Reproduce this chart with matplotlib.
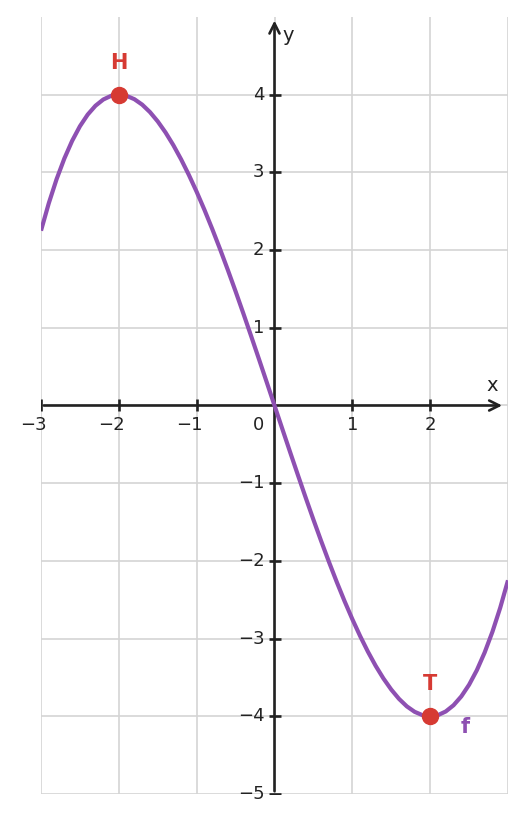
import matplotlib.pyplot as plt

# curve values (step 0.1)
xs = [round(-3.0 + 0.1 * i, 1) for i in range(61)]
ys_right = [0.0, -0.300, -0.598, -0.893, -1.184, -1.469, -1.746, -2.014, -2.272, -2.518, -2.75,
            -2.967, -3.168, -3.351, -3.514, -3.656, -3.776, -3.872, -3.942, -3.985, -4.0,
            -3.985, -3.938, -3.858, -3.744, -3.594, -3.406, -3.179, -2.912, -2.603, -2.25]
ys_left = [2.25, 2.603, 2.912, 3.179, 3.406, 3.594, 3.744, 3.858, 3.938, 3.985, 4.0,
           3.985, 3.942, 3.872, 3.776, 3.656, 3.514, 3.351, 3.168, 2.967, 2.75,
           2.518, 2.272, 2.014, 1.746, 1.469, 1.184, 0.893, 0.598, 0.300]
ys = ys_left + ys_right

point_names = ["H", "T"]
point_x = [-2, 2]
point_y = [4, -4]

x_ticks = [-3, -2, -1, 1, 2]
y_ticks = [-5, -4, -3, -2, -1, 1, 2, 3, 4]

purple = "#8e50b2"
red = "#d63a33"
dark = "#222222"

fig = plt.figure(figsize=(5.26, 8.23), dpi=100)
ax = fig.add_axes([41 / 526, 29 / 823, 467 / 526, 777 / 823])
ax.set_xlim(-3, 3)
ax.set_ylim(-5, 5)
ax.axis("off")

# grid
for gx in range(-3, 4):
    ax.plot([gx, gx], [-5, 5], color="#d4d4d4", lw=1.2, zorder=0)
for gy in range(-5, 5):
    ax.plot([-3, 3], [gy, gy], color="#d4d4d4", lw=1.2, zorder=0)

# axes with arrows
ax.annotate("", xy=(2.96, 0), xytext=(-3, 0),
            arrowprops=dict(arrowstyle="->", color=dark, lw=1.9, mutation_scale=18))
ax.annotate("", xy=(0, 4.99), xytext=(0, -5),
            arrowprops=dict(arrowstyle="->", color=dark, lw=1.9, mutation_scale=18))

ax.plot(x_ticks, [0] * len(x_ticks), ls="none", marker="|", ms=9, mew=1.9, color=dark)
ax.plot([0] * len(y_ticks), y_ticks, ls="none", marker="_", ms=9, mew=1.9, color=dark)

for t in x_ticks:
    if t < 0:
        ax.text(t + 0.075, -0.245, f"\u2212{-t}", ha="right", va="center",
                fontsize=13, color=dark)
    else:
        ax.text(t, -0.245, f"{t}", ha="center", va="center", fontsize=13, color=dark)
for t in y_ticks:
    ax.text(-0.13, t, f"{t}".replace("-", "\u2212"), ha="right", va="center",
            fontsize=13, color=dark)
ax.text(-0.13, -0.245, "0", ha="right", va="center", fontsize=13, color=dark)

ax.text(2.8, 0.26, "x", ha="center", va="center", fontsize=14, color=dark)
ax.text(0.18, 4.76, "y", ha="center", va="center", fontsize=14, color=dark)

# curve
ax.plot(xs, ys, color=purple, lw=3.0, zorder=3, solid_capstyle="butt")
ax.text(2.45, -4.14, "f", ha="center", va="center", fontsize=15,
        fontweight="bold", color=purple)

# extreme points
ax.plot(point_x, point_y, ls="none", marker="o", ms=11.5, color=red, zorder=4)
for name, px, py in zip(point_names, point_x, point_y):
    ax.text(px, py + 0.41, name, ha="center", va="center", fontsize=15,
            fontweight="bold", color=red)

fig.savefig("out.png", dpi=100)
